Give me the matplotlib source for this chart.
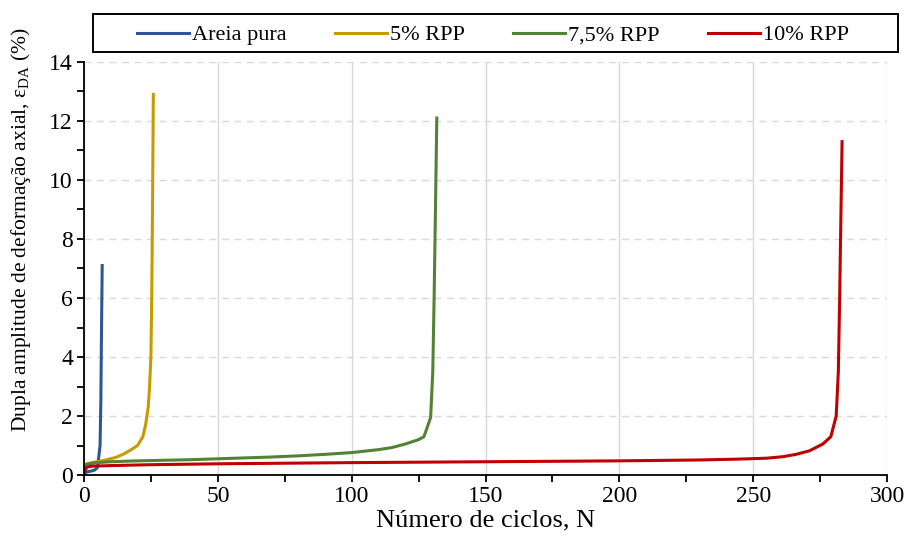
import numpy as np
import matplotlib
matplotlib.use("Agg")
import matplotlib.pyplot as plt
from matplotlib.patches import Rectangle
from matplotlib.ticker import MultipleLocator

plt.rcParams["font.family"] = ["Liberation Serif", "DejaVu Serif"]
plt.rcParams["mathtext.fontset"] = "custom"
plt.rcParams["mathtext.rm"] = "Liberation Serif"

# Areia pura
n_areia = [0, 1, 2, 3, 4, 5, 5.5, 6.0, 6.3, 6.5, 6.8]
e_areia = [0.05, 0.10, 0.12, 0.14, 0.17, 0.25, 0.60, 1.0, 2.5, 4.5, 7.1]

# 5% RPP
n_rpp5 = [0, 1, 3, 6, 9, 12, 15, 18, 20, 22, 23, 24, 24.5, 25, 25.3, 25.6, 25.9]
e_rpp5 = [0.30, 0.38, 0.42, 0.47, 0.53, 0.60, 0.72, 0.88, 1.0, 1.3, 1.7, 2.3,
          3.0, 4.0, 6.0, 9.0, 12.9]

# 7,5% RPP
n_rpp75 = [0, 2, 5, 10, 20, 30, 40, 50, 60, 70, 80, 90, 100, 110, 115, 120,
           125, 127, 129.5, 130.3, 130.8, 131.3, 131.8]
e_rpp75 = [0.33, 0.38, 0.42, 0.45, 0.48, 0.50, 0.52, 0.55, 0.58, 0.61, 0.65,
           0.70, 0.76, 0.86, 0.93, 1.05, 1.2, 1.3, 1.95, 3.5, 6.0, 9.0, 12.1]

# 10% RPP
n_rpp10 = [0, 1, 3, 10, 25, 50, 100, 150, 200, 230, 245, 255, 261, 266, 271,
           276, 279, 281, 281.8, 282.3, 282.8, 283.2]
e_rpp10 = [0.02, 0.27, 0.30, 0.32, 0.35, 0.38, 0.42, 0.45, 0.48, 0.51, 0.54,
           0.57, 0.62, 0.70, 0.82, 1.05, 1.3, 2.0, 3.5, 6.0, 9.0, 11.3]

series = [
    ("Areia pura", n_areia, e_areia, "#2F5597"),
    ("5% RPP", n_rpp5, e_rpp5, "#C99A00"),
    ("7,5% RPP", n_rpp75, e_rpp75, "#548235"),
    ("10% RPP", n_rpp10, e_rpp10, "#C00000"),
]

fig = plt.figure(figsize=(9.07, 5.47), dpi=100)
ax = fig.add_axes([0.0926, 0.1316, 0.8854, 0.7551])

for label, n, e, color in series:
    ax.plot(n, e, color=color, lw=2.2, label=label, solid_joinstyle="round")

ax.set_xlim(0, 300)
ax.set_ylim(0, 14)
ax.xaxis.set_major_locator(MultipleLocator(50))
ax.xaxis.set_minor_locator(MultipleLocator(25))
ax.yaxis.set_major_locator(MultipleLocator(2))
ax.yaxis.set_minor_locator(MultipleLocator(1))

ax.grid(axis="x", which="major", color="#d9d9d9", lw=1.0, ls="-")
ax.grid(axis="y", which="major", color="#d9d9d9", lw=1.0, ls=(0, (5, 4)))
ax.set_axisbelow(True)

for side in ["top", "right"]:
    ax.spines[side].set_visible(False)
for side in ["left", "bottom"]:
    ax.spines[side].set_linewidth(1.3)

ax.tick_params(which="major", direction="out", length=5, width=1.3,
               labelsize=17, pad=3)
ax.tick_params(which="minor", direction="out", length=5, width=1.3)

ax.set_xlabel("Número de ciclos, N", fontsize=19, labelpad=2)
ax.set_ylabel(r"Dupla amplitude de deformação axial, ε$_{\mathrm{DA}}$ (%)",
              fontsize=15.5)
ax.yaxis.set_label_coords(-0.064, 0.594)

# legend box above the plot
fig.patches.append(Rectangle((93 / 907, 1 - 52 / 547), 805 / 907, 38 / 547,
                             transform=fig.transFigure, fill=False,
                             edgecolor="black", lw=1.4))
fig.legend(loc="center", bbox_to_anchor=(0.5435, 0.936), ncol=4, fontsize=16,
           frameon=False, handlelength=2.35, handletextpad=0.15,
           columnspacing=2.15, borderpad=0)

fig.savefig("out.png", dpi=100)
